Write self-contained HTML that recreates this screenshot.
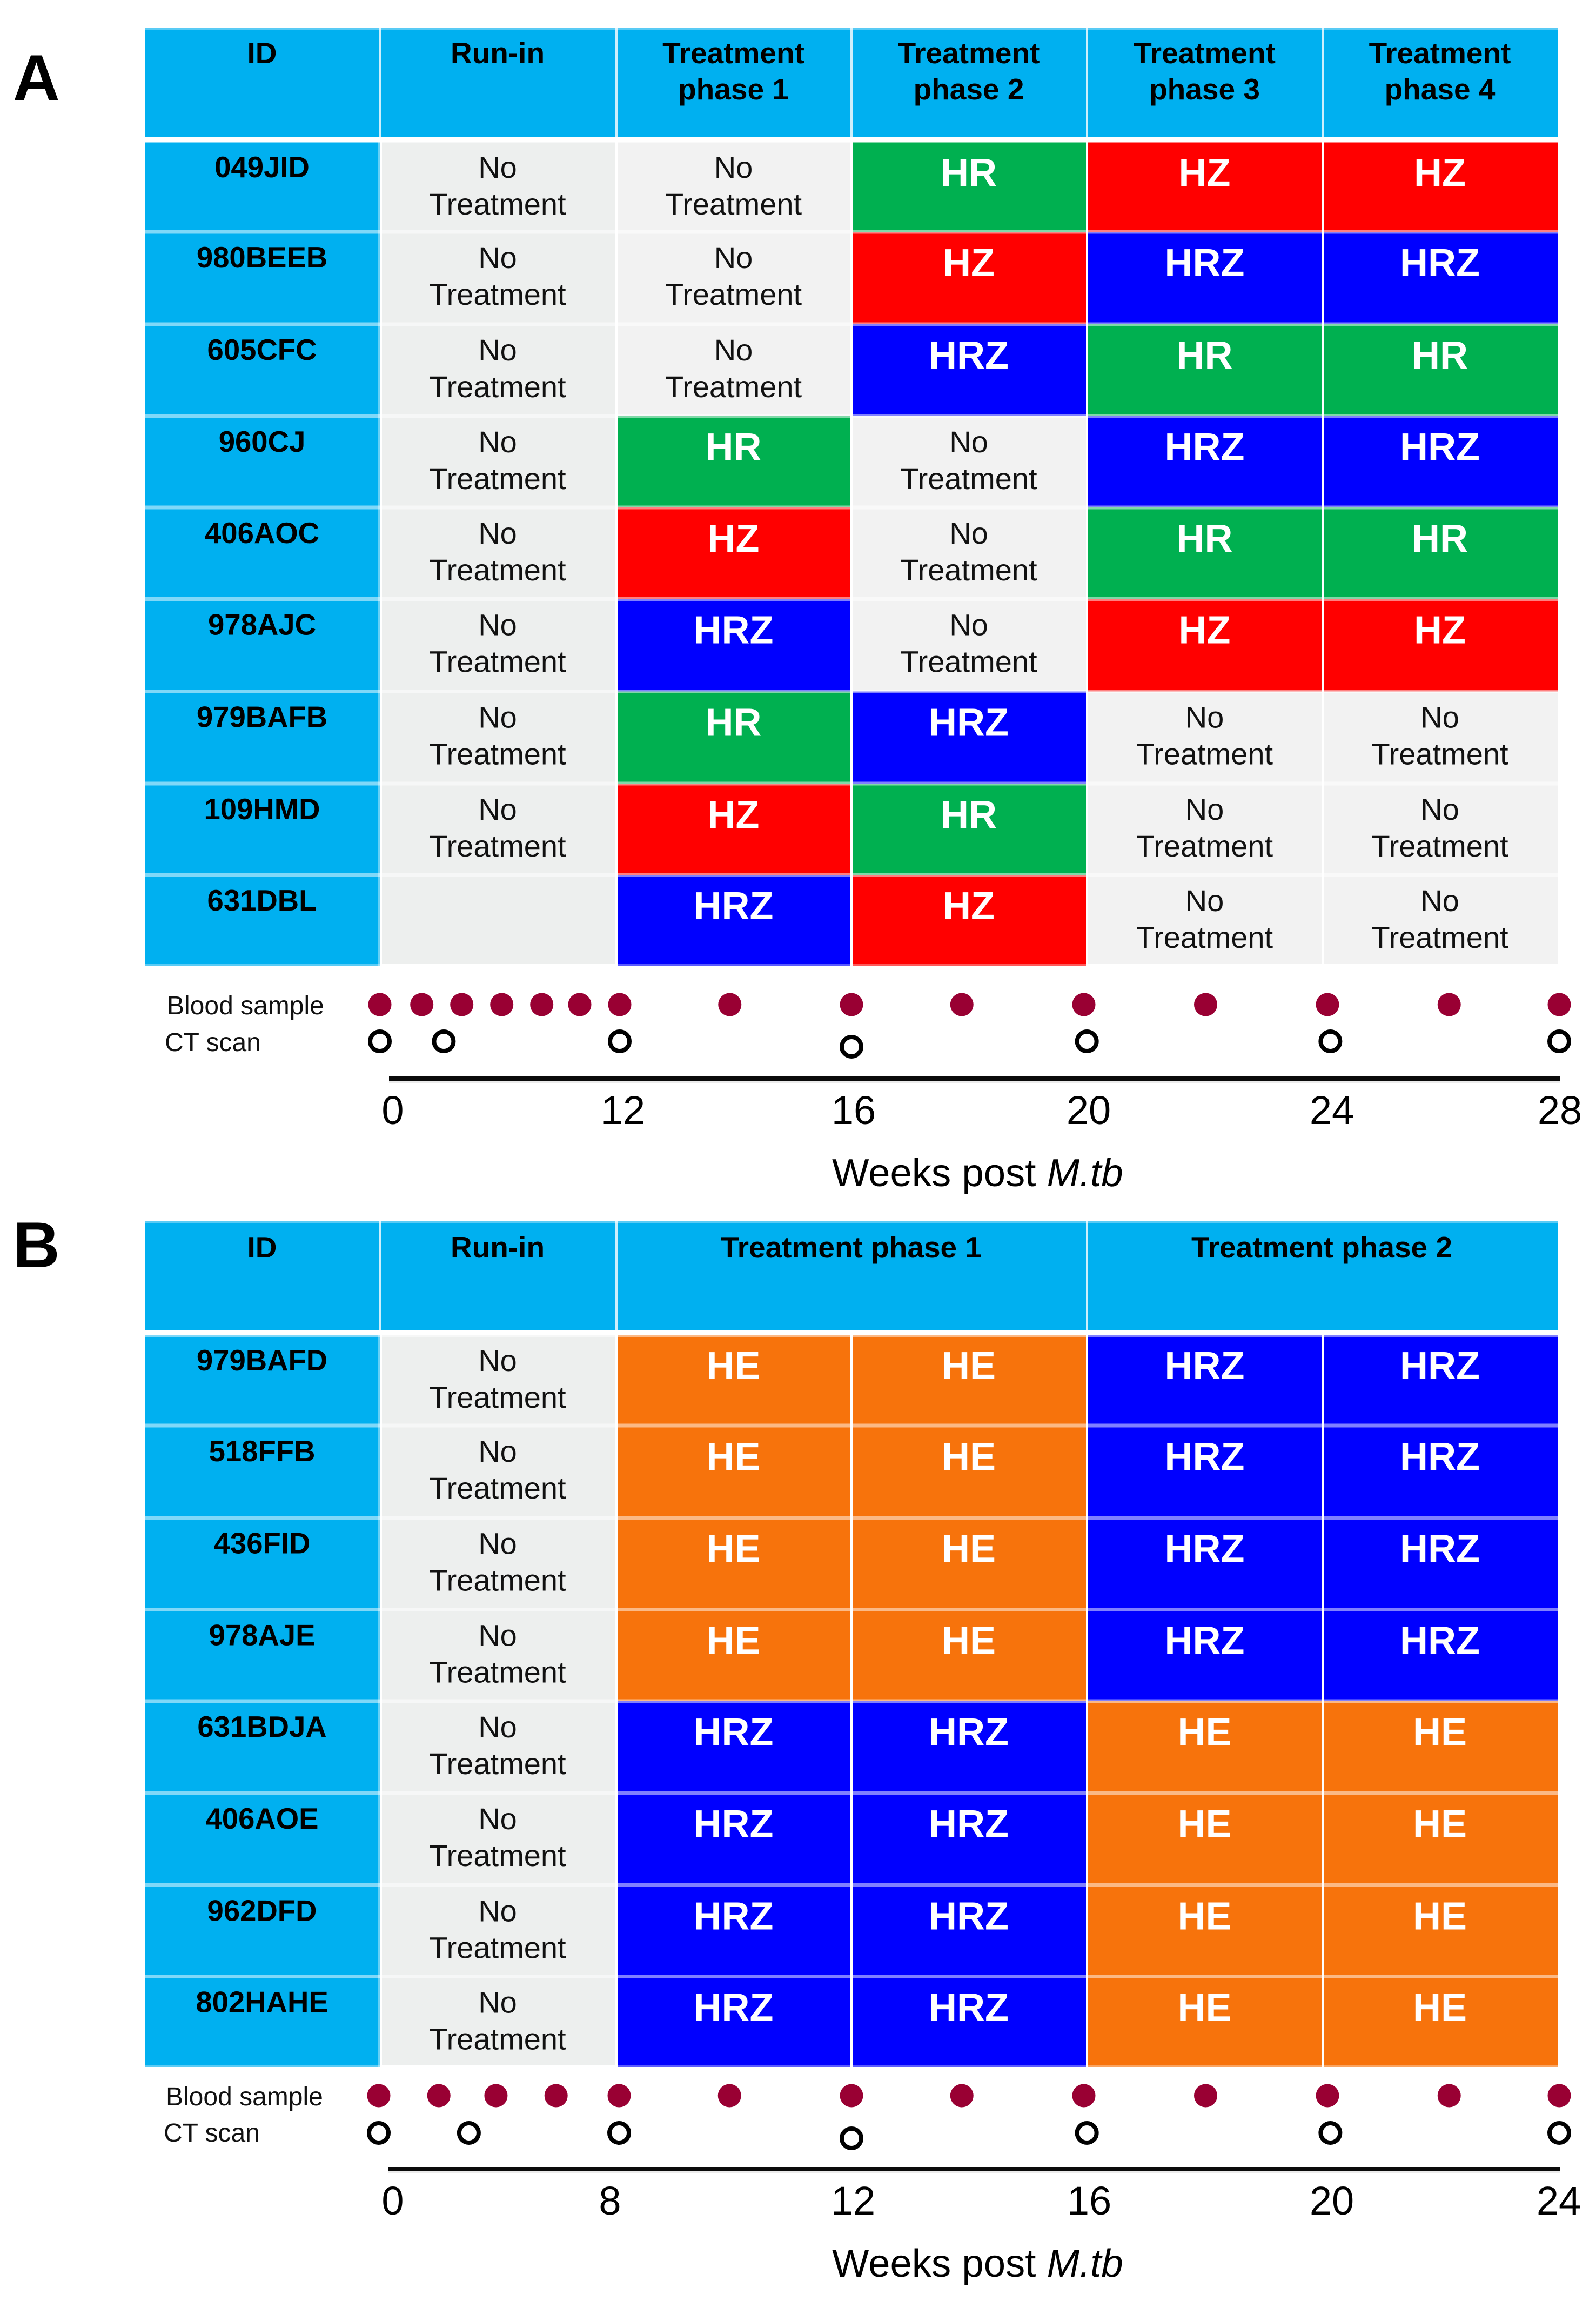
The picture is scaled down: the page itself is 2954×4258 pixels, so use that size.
<!DOCTYPE html>
<html lang="en">
<head>
<meta charset="utf-8">
<title>Study design schematic</title>
<style>
html,body{margin:0;padding:0;background:#fff;width:2954px;height:4258px;overflow:hidden}
svg{display:block;font-family:"Liberation Sans",Arial,sans-serif}
</style>
</head>
<body>
<svg id="figure" xmlns="http://www.w3.org/2000/svg" width="2954" height="4258" viewBox="0 0 2954 4258"></svg>
<script>
// ---------- Panel A data ----------
const panelAColumns = [['ID'], ['Run-in'], ['Treatment', 'phase 1'], ['Treatment', 'phase 2'], ['Treatment', 'phase 3'], ['Treatment', 'phase 4']];
const panelAIds = ['049JID', '980BEEB', '605CFC', '960CJ', '406AOC', '978AJC', '979BAFB', '109HMD', '631DBL'];
const panelARegimens = [
  ['NT', 'NT', 'HR', 'HZ', 'HZ'],
  ['NT', 'NT', 'HZ', 'HRZ', 'HRZ'],
  ['NT', 'NT', 'HRZ', 'HR', 'HR'],
  ['NT', 'HR', 'NT', 'HRZ', 'HRZ'],
  ['NT', 'HZ', 'NT', 'HR', 'HR'],
  ['NT', 'HRZ', 'NT', 'HZ', 'HZ'],
  ['NT', 'HR', 'HRZ', 'NT', 'NT'],
  ['NT', 'HZ', 'HR', 'NT', 'NT'],
  ['', 'HRZ', 'HZ', 'NT', 'NT']
];
const panelATicks = [0, 12, 16, 20, 24, 28];
const panelABloodWeeks = [0, 2.1, 4.1, 6.1, 8.1, 10, 12, 13.9, 16, 17.9, 20, 22, 24, 26.1, 28];
const panelACtWeeks = [0, 3.2, 12, 16, 20.05, 24.05, 28];
const panelACtDropped = [0, 0, 0, 1, 0, 0, 0];

// ---------- Panel B data ----------
const panelBColumns = [['ID'], ['Run-in'], ['Treatment phase 1'], ['Treatment phase 2']];
const panelBIds = ['979BAFD', '518FFB', '436FID', '978AJE', '631BDJA', '406AOE', '962DFD', '802HAHE'];
const panelBRegimens = [
  ['NT', 'HE', 'HE', 'HRZ', 'HRZ'],
  ['NT', 'HE', 'HE', 'HRZ', 'HRZ'],
  ['NT', 'HE', 'HE', 'HRZ', 'HRZ'],
  ['NT', 'HE', 'HE', 'HRZ', 'HRZ'],
  ['NT', 'HRZ', 'HRZ', 'HE', 'HE'],
  ['NT', 'HRZ', 'HRZ', 'HE', 'HE'],
  ['NT', 'HRZ', 'HRZ', 'HE', 'HE'],
  ['NT', 'HRZ', 'HRZ', 'HE', 'HE']
];
const panelBTicks = [0, 8, 12, 16, 20, 24];
const panelBBloodWeeks = [0, 2, 3.9, 5.9, 8, 9.9, 12, 13.9, 16, 18, 20, 22.1, 24];
const panelBCtWeeks = [0, 3, 8, 12, 16.05, 20.05, 24];
const panelBCtDropped = [0, 0, 0, 1, 0, 0, 0];

// ---------- Rendering ----------
const SVG_NS = 'http://www.w3.org/2000/svg';
const root = document.getElementById('figure');
const REGIMEN_FILL = { HR: '#00B050', HZ: '#FF0000', HRZ: '#0000FF', HE: '#F7730C' };
const COL_EDGES = [269, 703, 1141, 1576, 2012, 2449, 2883];
const HEADER_BLUE = '#00B0F0';

function piecewiseScale(domain, range) {
  return function (v) {
    let i = 0;
    while (i < domain.length - 2 && v > domain[i + 1]) i++;
    const t = (v - domain[i]) / (domain[i + 1] - domain[i]);
    return range[i] + t * (range[i + 1] - range[i]);
  };
}

function addRect(name, x, y, w, h, fill, opacity) {
  const el = document.createElementNS(SVG_NS, 'rect');
  
  
  el.setAttribute('x', x);
  el.setAttribute('y', y);
  el.setAttribute('width', w);
  el.setAttribute('height', h);
  el.setAttribute('fill', fill);
  if (opacity !== undefined) el.setAttribute('fill-opacity', opacity);
  root.appendChild(el);
  return el;
}

function addText(name, str, x, y, size, opts) {
  const o = opts || {};
  const el = document.createElementNS(SVG_NS, 'text');
  
  
  el.setAttribute('x', x);
  el.setAttribute('y', y);
  el.setAttribute('font-size', size);
  el.setAttribute('text-anchor', o.anchor || 'middle');
  el.setAttribute('fill', o.fill || '#000');
  if (o.bold) el.setAttribute('font-weight', 'bold');
  el.textContent = str;
  root.appendChild(el);
  return el;
}

function drawPanel(cfg) {
  const k = cfg.key;
  const rows = cfg.rowTops;
  const bottom = cfg.bottom;
  const mid = i => (COL_EDGES[i] + COL_EDGES[i + 1]) / 2;

  addText(k + '-panel-label', cfg.letter, cfg.letterX, cfg.letterY, 120, { anchor: 'start', bold: true });

  // header band
  cfg.header.forEach(function (h, i) {
    const x0 = COL_EDGES[h.from], x1 = COL_EDGES[h.to];
    addRect(k + '-header-cell-' + i, x0, cfg.headerTop, x1 - x0, cfg.headerBottom - cfg.headerTop, HEADER_BLUE);
    const lines = cfg.columns[i];
    lines.forEach(function (line, j) {
      addText(k + '-header-label-' + i + '-' + j, line, (x0 + x1) / 2 - 1, cfg.headerBaseline + j * 67, 55, { bold: true });
    });
    if (i > 0) addRect(k + '-header-divider-' + i, x0 - 2, cfg.headerTop, 4, cfg.headerBottom - cfg.headerTop, '#fff', 0.8);
  });
  addRect(k + '-header-top-edge', COL_EDGES[0], cfg.headerTop, COL_EDGES[6] - COL_EDGES[0], 4, '#fff', 0.35);

  // body cells
  cfg.ids.forEach(function (id, r) {
    const top = rows[r];
    const h = (r + 1 < rows.length ? rows[r + 1] : bottom) - top;
    addRect(k + '-id-cell-' + id, COL_EDGES[0], top, COL_EDGES[1] - COL_EDGES[0] - 4, h, HEADER_BLUE);
    addRect(k + '-id-cell-edge-' + id, COL_EDGES[1] - 4, top, 4, h, '#66D0F6');
    addText(k + '-id-label-' + id, id, mid(0) - 1, top + 66, 54.5, { bold: true });

    cfg.regimens[r].forEach(function (reg, c) {
      const col = c + 1;
      const x0 = COL_EDGES[col] + (col === 1 ? 4 : 2);
      const x1 = COL_EDGES[col + 1] - (col === 5 ? 0 : 2);
      const cellName = k + '-cell-' + id + '-col-' + col;
      if (reg === 'NT' || reg === '') {
        addRect(cellName, x0, top, x1 - x0, h - (r + 1 === rows.length ? 3 : 0), col === 1 ? '#EDEFEE' : '#F2F2F2');
        if (reg === 'NT') {
          addText(cellName + '-no', 'No', mid(col) - 1, top + 67, 56, { fill: '#111' });
          addText(cellName + '-treatment', 'Treatment', mid(col) - 1, top + 135, 56, { fill: '#111' });
        }
      } else {
        addRect(cellName, x0, top, x1 - x0, h, REGIMEN_FILL[reg]);
        addText(cellName + '-label', reg, mid(col) - 1, top + 82, 72, { fill: '#fff', bold: true });
      }
    });

    // translucent row separator
    const sepTop = r === 0 ? top : top - 3.5;
    const sepH = r === 0 ? cfg.firstBand : 7;
    addRect(k + '-row-separator-' + r, COL_EDGES[0], sepTop, COL_EDGES[6] - COL_EDGES[0], sepH, '#fff', 0.5);
  });
  addRect(k + '-table-bottom-edge', COL_EDGES[0], bottom - 4, COL_EDGES[6] - COL_EDGES[0], 4, '#fff', 0.35);

  // sampling markers
  const markerX = piecewiseScale(cfg.ticks, [cfg.markerRange[0], cfg.markerRange[1], 1576, 2006, 2457, 2886]);
  addText(k + '-blood-row-label', 'Blood sample', cfg.bloodLabelX, cfg.bloodBaseline, 48, { anchor: 'start', fill: '#111' });
  addText(k + '-ct-row-label', 'CT scan', cfg.ctLabelX, cfg.ctBaseline, 48, { anchor: 'start', fill: '#111' });

  cfg.blood.forEach(function (w, i) {
    const el = document.createElementNS(SVG_NS, 'circle');
    
    
    el.setAttribute('cx', markerX(w));
    el.setAttribute('cy', cfg.bloodY);
    el.setAttribute('r', 21.5);
    el.setAttribute('fill', '#990033');
    root.appendChild(el);
  });
  cfg.ct.forEach(function (w, i) {
    const el = document.createElementNS(SVG_NS, 'circle');
    
    
    el.setAttribute('cx', markerX(w));
    el.setAttribute('cy', cfg.ctY + cfg.ctDropped[i] * 10);
    el.setAttribute('r', 18);
    el.setAttribute('fill', '#fff');
    el.setAttribute('stroke', '#000');
    el.setAttribute('stroke-width', 8);
    root.appendChild(el);
  });

  // axis
  addRect(k + '-x-axis-line', cfg.axisStart, cfg.axisY - 4, 2887 - cfg.axisStart, 8, '#0a0a0a');
  addRect(k + '-x-axis-shadow', cfg.axisStart, cfg.axisY + 4, 2887 - cfg.axisStart, 4, '#000', 0.08);
  const tickX = piecewiseScale(cfg.ticks, cfg.tickRange);
  cfg.ticks.forEach(function (t) {
    addText(k + '-x-tick-' + t, String(t), tickX(t), cfg.tickBaseline, 74);
  });

  const title = addText(k + '-x-axis-title', 'Weeks post ', 1540, cfg.titleBaseline, 72.5, { anchor: 'start' });
  const em = document.createElementNS(SVG_NS, 'tspan');
  
  
  em.setAttribute('font-style', 'italic');
  em.textContent = 'M.tb';
  title.appendChild(em);
}

drawPanel({
  key: 'panel-a', letter: 'A', letterX: 24, letterY: 185,
  columns: panelAColumns, ids: panelAIds, regimens: panelARegimens,
  header: [{from:0,to:1},{from:1,to:2},{from:2,to:3},{from:3,to:4},{from:4,to:5},{from:5,to:6}],
  headerTop: 51, headerBottom: 254, headerBaseline: 117, firstBand: 3,
  rowTops: [262, 429, 600, 770, 939, 1108.5, 1279.5, 1450, 1619], bottom: 1787,
  ticks: panelATicks, blood: panelABloodWeeks, ct: panelACtWeeks, ctDropped: panelACtDropped,
  markerRange: [703, 1147], bloodY: 1859, ctY: 1927,
  bloodLabelX: 309, bloodBaseline: 1877, ctLabelX: 305, ctBaseline: 1945,
  axisStart: 720, axisY: 1996, tickRange: [727, 1153, 1580, 2015, 2465, 2887], tickBaseline: 2080, titleBaseline: 2195
});

drawPanel({
  key: 'panel-b', letter: 'B', letterX: 24, letterY: 2345,
  columns: panelBColumns, ids: panelBIds, regimens: panelBRegimens,
  header: [{from:0,to:1},{from:1,to:2},{from:2,to:4},{from:4,to:6}],
  headerTop: 2260, headerBottom: 2462, headerBaseline: 2327, firstBand: 4,
  rowTops: [2470, 2638, 2808.5, 2978.5, 3148, 3318, 3488.5, 3657.5], bottom: 3825,
  ticks: panelBTicks, blood: panelBBloodWeeks, ct: panelBCtWeeks, ctDropped: panelBCtDropped,
  markerRange: [701, 1146], bloodY: 3878, ctY: 3947,
  bloodLabelX: 307, bloodBaseline: 3896, ctLabelX: 303, ctBaseline: 3963,
  axisStart: 719, axisY: 4014, tickRange: [727, 1129, 1579, 2016, 2465, 2885], tickBaseline: 4098, titleBaseline: 4213
});
</script>
</body>
</html>
